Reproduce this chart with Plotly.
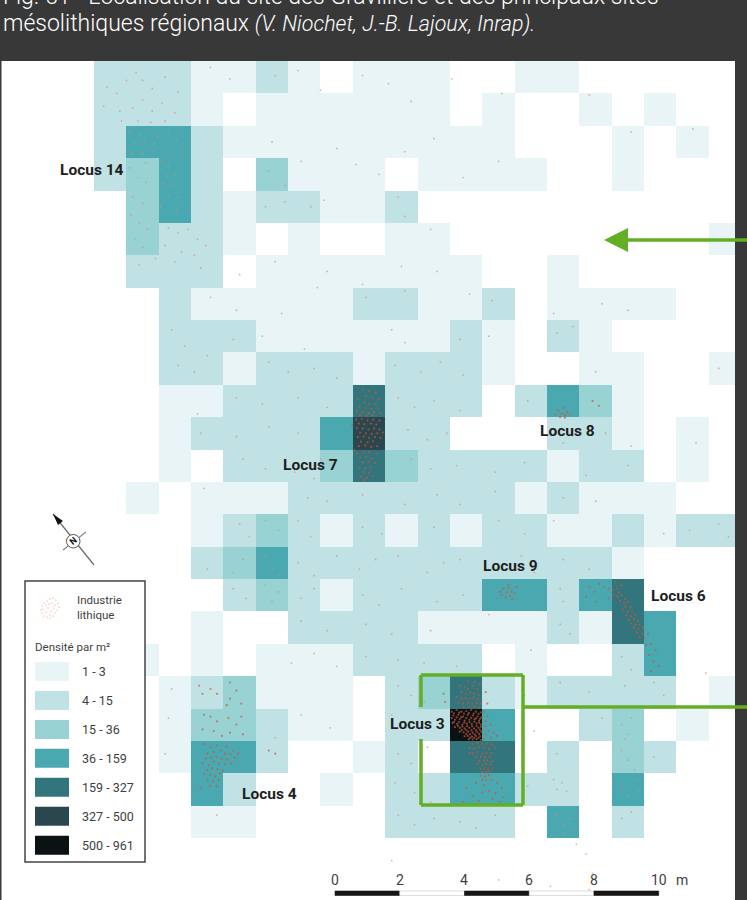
import plotly.graph_objects as go

# Density class per 1 m cell (0 = empty, 1..7 = legend classes), rows top to bottom
density = [
 [2,2,2,1,1,2,1,0,1,1,1,0,0,1,1,0,0,0,0,0],
 [2,2,2,1,0,1,1,1,1,1,1,0,1,0,0,1,0,1,0,0],
 [2,4,4,2,1,1,1,1,1,1,1,1,1,0,0,0,1,0,1,0],
 [2,3,4,2,0,3,1,1,1,0,1,1,1,1,0,0,1,0,0,0],
 [0,3,4,2,1,2,2,1,1,2,0,0,0,0,0,0,0,0,0,0],
 [0,3,2,2,1,0,1,0,0,1,1,0,0,0,0,0,0,0,0,1],
 [0,2,2,2,0,1,1,1,1,1,1,1,0,0,1,0,0,0,0,0],
 [0,0,2,1,1,1,1,1,2,2,1,1,2,0,1,1,1,1,0,0],
 [0,0,2,2,2,1,1,1,1,1,1,2,1,0,2,1,0,0,0,0],
 [0,0,2,2,1,2,2,2,1,2,2,2,1,0,0,1,1,0,0,1],
 [0,0,1,1,2,2,2,2,5,2,2,2,0,2,4,3,1,0,0,0],
 [0,0,1,2,2,2,2,4,6,2,2,0,0,0,2,2,1,0,1,0],
 [0,0,1,0,2,2,2,3,5,3,2,2,2,2,1,2,2,0,1,0],
 [0,1,0,1,1,1,2,2,2,2,2,2,2,1,2,1,1,1,0,0],
 [0,0,0,1,2,3,2,1,2,1,2,1,2,2,1,1,2,1,2,2],
 [0,0,0,2,3,4,2,2,2,2,2,2,2,2,2,2,1,0,0,0],
 [0,0,0,0,2,3,2,1,2,2,2,2,4,4,2,4,5,0,0,0],
 [0,0,0,1,0,0,2,2,2,2,1,1,1,1,2,1,5,4,0,0],
 [0,1,0,1,0,1,1,1,2,2,2,2,0,1,0,0,2,4,0,0],
 [0,0,1,2,3,1,1,1,0,2,3,5,2,1,2,2,2,2,0,1],
 [0,0,1,3,3,2,1,1,0,2,2,7,4,0,0,2,3,0,1,0],
 [0,0,1,4,4,2,0,0,1,2,0,5,5,0,2,0,3,2,0,0],
 [0,0,0,4,2,0,0,1,0,2,2,4,4,2,2,0,4,0,0,0],
 [0,0,0,1,1,0,0,0,0,2,2,2,2,0,4,0,2,0,0,0],
]
class_labels = ["1 - 3", "4 - 15", "15 - 36", "36 - 159", "159 - 327", "327 - 500", "500 - 961"]
class_colors = ["#e9f4f6", "#c1e2e4", "#98d2d3", "#4aa9b0", "#33757d", "#2a464f", "#0a1214"]

locus_names = ["Locus 14", "Locus 7", "Locus 8", "Locus 9", "Locus 6", "Locus 3", "Locus 4"]
scale_ticks = [0, 2, 4, 6, 8, 10]

# Lithic finds, metres on the excavation grid
locus3_finds = [
 (11.05,20.1),(11.2,20.05),(11.35,20.1),(11.5,20.08),(11.65,20.05),(11.8,20.1),(11.95,20.12),
 (11.1,20.22),(11.25,20.2),(11.4,20.25),(11.55,20.2),(11.7,20.22),(11.85,20.25),(11.97,20.28),
 (11.15,20.35),(11.3,20.33),(11.45,20.38),(11.6,20.35),(11.75,20.33),(11.9,20.38),
 (11.08,20.45),(11.22,20.48),(11.38,20.5),(11.52,20.47),(11.67,20.48),(11.82,20.46),(11.95,20.5),
 (11.3,20.6),(11.45,20.62),(11.6,20.6),(11.74,20.62),(11.88,20.6),(11.15,20.58),
 (11.42,20.74),(11.56,20.72),(11.7,20.75),(11.84,20.73),(11.96,20.72),(11.3,20.72),
 (11.55,20.85),(11.68,20.87),(11.8,20.85),(11.93,20.86),(11.45,20.86),
 (11.7,20.96),(11.82,20.95),(11.95,20.97),(11.58,20.95),
 (11.12,20.15),(11.28,20.13),(11.43,20.16),(11.58,20.14),(11.73,20.16),(11.88,20.17),
 (11.05,20.3),(11.2,20.28),(11.35,20.27),(11.5,20.3),(11.65,20.29),(11.8,20.31),(11.93,20.32),
 (11.12,20.42),(11.28,20.42),(11.44,20.44),(11.6,20.42),(11.75,20.41),(11.9,20.44),
 (11.24,20.54),(11.38,20.56),(11.53,20.55),(11.68,20.55),(11.82,20.54),(11.95,20.57),
 (11.36,20.67),(11.5,20.67),(11.66,20.68),(11.8,20.68),(11.92,20.66),
 (11.5,20.79),(11.62,20.8),(11.76,20.8),(11.9,20.79),(11.63,20.9),(11.75,20.91),(11.88,20.91),
 (11.3,19.3),(11.45,19.35),(11.55,19.4),(11.7,19.3),(11.85,19.4),(11.35,19.5),(11.5,19.55),(11.62,19.5),
 (11.75,19.55),(11.9,19.6),(11.2,19.65),(11.35,19.7),(11.48,19.68),(11.6,19.7),(11.72,19.66),(11.85,19.72),
 (11.25,19.82),(11.4,19.85),(11.55,19.82),(11.68,19.86),(11.82,19.84),(11.95,19.85),(11.42,19.95),(11.6,19.96),(11.75,19.94),(11.9,19.97),
 (11.55,19.15),(11.75,19.18),(11.92,19.25),(12.1,19.5),(12.15,19.85),(10.8,19.55),(10.85,19.8),
 (12.05,20.1),(12.15,20.25),(12.1,20.4),(12.25,20.5),(12.08,20.55),(12.2,20.7),(12.35,20.75),(12.1,20.8),(12.25,20.92),(12.45,20.85),(12.05,20.95),
 (11.7,21.1),(11.85,21.05),(12.0,21.1),(12.15,21.08),(12.3,21.12),(11.6,21.22),(11.75,21.25),(11.9,21.2),(12.05,21.22),(12.2,21.25),(12.4,21.2),
 (11.7,21.38),(11.85,21.35),(12.0,21.4),(12.12,21.37),(12.28,21.38),(11.6,21.38),(11.8,21.5),(11.95,21.5),(12.08,21.52),(12.22,21.5),
 (11.9,21.62),(12.05,21.63),(12.15,21.6),(12.3,21.65),(11.85,21.72),(12.0,21.75),(12.12,21.72),(12.25,21.74),
 (11.95,21.86),(12.05,21.85),(12.18,21.88),(12.3,21.86),(12.0,21.96),(12.12,21.97),(12.22,21.95),
 (11.95,22.08),(12.08,22.1),(12.2,22.07),(12.0,22.2),(12.12,22.22),(12.28,22.2),(12.45,22.3),(11.8,22.3),(12.05,22.38),(12.6,22.45),(11.5,22.45),
 (12.2,22.55),(12.0,22.6),(12.4,22.62),(11.7,22.7),(12.3,22.8),(12.65,22.75),(11.9,22.85),(12.55,22.9),(11.4,22.9),
]
locus7_finds = [
 (8.3,10.15),(8.5,10.2),(8.7,10.25),(8.4,10.35),(8.6,10.4),(8.15,10.45),(8.8,10.45),(8.35,10.55),(8.5,10.6),(8.7,10.6),
 (8.2,10.68),(8.4,10.72),(8.58,10.75),(8.78,10.72),(8.12,10.82),(8.3,10.85),(8.48,10.88),(8.65,10.85),(8.85,10.88),(8.22,10.95),(8.42,10.97),(8.6,10.95),
 (8.1,11.08),(8.27,11.06),(8.45,11.1),(8.62,11.08),(8.82,11.1),(8.18,11.2),(8.35,11.22),(8.55,11.2),(8.72,11.23),(7.98,11.25),
 (8.12,11.34),(8.3,11.36),(8.48,11.38),(8.65,11.35),(8.82,11.38),(8.22,11.48),(8.4,11.5),(8.58,11.52),(8.75,11.5),(8.92,11.48),
 (8.15,11.62),(8.33,11.6),(8.5,11.65),(8.68,11.62),(8.85,11.64),(8.25,11.76),(8.45,11.78),(8.62,11.75),(8.18,11.9),(8.38,11.88),(8.56,11.92),(8.75,11.9),
 (8.05,12.02),(8.12,12.12),(8.32,12.1),(8.5,12.08),(8.72,12.12),(8.22,12.25),(8.4,12.22),(8.58,12.28),(8.3,12.4),(8.48,12.38),(8.68,12.42),
 (8.2,12.55),(8.38,12.58),(8.55,12.55),(8.33,12.7),(8.5,12.72),(8.25,12.85),(8.42,12.88),(8.62,12.82),(8.35,12.95),
]
locus6_finds = [
 (15.75,16.25),(15.9,16.3),(16.05,16.35),(15.6,16.15),(16.15,16.3),(16.22,16.42),(16.05,16.5),(16.18,16.55),(16.3,16.5),(16.4,16.62),
 (16.25,16.68),(16.38,16.75),(16.5,16.7),(16.42,16.85),(16.58,16.88),(16.35,16.95),(16.5,17.02),(16.62,17.0),(16.45,17.12),(16.6,17.15),(16.72,17.1),
 (16.52,17.28),(16.68,17.25),(16.8,17.3),(16.58,17.38),(16.72,17.42),(16.85,17.4),(16.68,17.52),(16.82,17.55),(16.95,17.5),(16.78,17.66),(16.92,17.68),
 (16.85,17.8),(17.0,17.82),(17.12,17.7),(17.05,18.05),(17.2,18.0),(17.35,18.2),(17.15,18.35),(17.28,18.55),(17.45,18.7),(17.2,18.85),
 (15.3,16.25),(15.45,16.4),(15.2,16.55),(15.5,16.7),(16.1,16.08),(16.3,16.2),(15.9,16.6),
]
locus4_finds = [
 (3.4,21.1),(3.6,21.2),(3.8,21.15),(4.1,21.18),(4.3,21.3),(3.5,21.4),(3.7,21.35),(3.9,21.3),(4.05,21.4),(4.22,21.42),(4.45,21.4),
 (3.45,21.55),(3.62,21.52),(3.78,21.5),(3.95,21.55),(4.12,21.58),(4.35,21.52),(3.35,21.7),(3.55,21.75),(3.7,21.65),(3.85,21.7),(4.05,21.72),(4.25,21.7),
 (3.5,21.9),(3.65,21.85),(3.82,21.88),(3.98,21.92),(3.4,22.02),(3.6,22.05),(3.75,22.1),(3.9,22.0),(3.5,22.2),(3.68,22.25),(3.85,22.2),(3.58,22.4),(3.78,22.4),(3.3,22.45),
 (3.25,19.3),(3.35,19.55),(3.6,19.4),(3.8,19.55),(4.2,19.2),(4.4,19.45),(4.2,19.7),(4.55,19.85),(4.1,19.9),(3.4,20.2),(3.6,20.25),(3.8,20.4),(4.15,20.3),(4.4,20.5),(4.55,20.25),(4.2,20.75),(3.35,20.65),(3.7,20.7),(3.95,20.85),(4.6,20.8),(5.4,21.3),(5.6,21.4),
]
locus9_finds = [(12.65,16.3),(12.8,16.28),(12.9,16.4),(12.75,16.42),(12.6,16.5),(12.85,16.52),(13.0,16.45),(12.72,16.58),(12.92,16.62),(12.55,16.4),(12.8,16.18),(13.05,16.25)]
locus8_finds = [(14.35,10.8),(14.5,10.72),(14.62,10.85),(14.45,10.9),(14.25,10.92),(14.7,10.92),(14.55,10.95),(14.4,11.0),(14.55,11.02),(15.4,10.5),(15.6,10.65)]
locus14_finds = [
 (1.1,2.2),(1.4,2.3),(1.7,2.15),(1.95,2.35),(1.25,2.55),(1.55,2.5),(1.85,2.55),(2.3,2.25),(2.55,2.45),(2.7,2.8),(1.15,2.85),(1.5,2.85),(1.8,2.8),(1.1,3.3),
 (1.6,3.15),(2.1,3.1),(2.3,3.25),(2.5,3.5),(2.25,3.55),(2.45,3.85),(2.15,3.8),(2.6,4.2),(2.3,4.15),(2.55,4.6),(2.05,4.5),(1.35,3.6),(1.6,3.75),(1.2,4.2),(1.5,4.4),(1.15,4.75),(1.4,5.0),(1.65,5.2),(1.25,5.5),(1.5,5.75),
 (2.3,5.15),(2.6,5.3),(2.9,5.2),(3.2,5.5),(3.45,5.7),(2.2,5.7),(2.7,5.9),(3.1,6.0),(3.3,6.4),(2.5,6.2),(1.4,6.3),(1.9,6.1),
 (0.4,0.8),(0.7,1.0),(1.0,0.6),(1.3,0.35),(1.5,0.6),(1.8,0.85),(2.2,0.5),(2.6,0.95),(0.3,1.4),(0.8,1.55),(1.2,1.45),(1.5,1.2),(1.8,1.55),(2.1,1.3),(2.5,1.6),(0.85,1.85),(1.35,1.85),(1.75,1.9),(2.2,1.85),
]
scattered_finds = [
 (3.6,0.2),(4.2,0.55),(5.6,0.45),(6.3,0.3),(7.0,0.9),(8.3,0.45),(9.1,0.7),(9.8,1.25),(11.05,0.55),(12.6,1.0),(15.3,1.05),(16.6,2.2),(18.5,2.1),
 (5.5,2.5),(6.4,3.1),(7.5,2.7),(8.8,3.5),(9.6,2.8),(10.5,2.4),(11.4,3.6),(12.5,3.1),(5.4,3.4),(5.9,3.85),(7.1,4.3),(8.1,3.2),(9.4,4.2),(9.6,4.8),(10.4,5.2),
 (5.3,4.5),(5.9,4.35),(6.7,4.5),(5.6,6.2),(7.2,6.5),(8.3,6.9),(9.5,6.35),(10.6,6.5),(4.5,6.6),(3.6,7.3),(4.4,7.7),(5.8,7.8),(6.9,7.0),(8.4,7.3),(9.6,7.1),(11.6,7.2),(12.3,7.4),(14.2,7.8),(15.7,7.5),(16.5,7.7),
 (2.4,8.3),(2.8,8.8),(3.5,9.1),(4.3,8.6),(5.2,8.5),(6.5,8.9),(9.2,8.3),(9.6,8.7),(11.3,8.6),(12.2,8.5),(14.3,8.4),(14.8,8.2),
 (2.6,9.4),(3.1,9.6),(5.4,9.3),(6.0,9.6),(6.8,9.5),(7.5,9.8),(9.3,9.4),(10.1,9.6),(10.7,9.3),(11.4,9.7),(15.5,9.6),(19.3,9.5),
 (3.2,10.9),(4.4,10.4),(5.2,10.6),(6.3,10.4),(7.2,10.7),(9.4,10.4),(9.9,10.7),(10.5,10.5),(11.3,10.8),(13.4,10.5),
 (3.3,11.5),(4.4,11.6),(5.4,11.3),(6.3,11.5),(7.0,12.3),(9.7,11.4),(10.3,11.7),(10.9,11.5),(14.5,11.8),(15.8,11.5),(16.6,11.9),(18.6,11.8),
 (4.6,12.3),(5.3,12.6),(6.2,12.7),(6.8,12.9),(9.8,12.3),(10.4,12.6),(11.2,12.5),(12.4,12.7),(13.3,12.4),(15.2,12.8),(16.5,12.5),
 (3.4,13.2),(6.6,13.5),(7.2,13.6),(8.3,13.4),(9.6,13.7),(10.6,13.4),(11.3,13.7),(12.4,13.3),(14.5,13.5),(15.5,13.6),
 (4.5,14.3),(4.8,14.7),(5.3,14.2),(5.7,14.5),(6.3,14.2),(6.7,14.7),(8.3,14.4),(8.9,14.6),(10.5,14.4),(12.5,14.2),(13.3,14.6),(14.2,14.2),(17.6,14.6),(18.4,14.5),(19.3,14.3),(19.6,14.7),
 (3.5,15.7),(4.3,15.8),(4.6,15.4),(5.3,15.3),(5.5,15.7),(5.7,15.9),(6.3,15.5),(6.8,15.9),(7.5,15.3),(8.2,15.7),(8.7,15.4),(9.4,15.3),(10.3,15.8),(10.8,15.5),(11.3,15.4),(12.2,15.7),(13.2,15.3),(13.6,15.8),(14.5,15.4),(15.3,15.7),
 (4.3,16.3),(4.7,16.6),(5.3,16.2),(5.5,16.7),(5.7,16.4),(6.4,16.6),(6.8,16.3),(8.3,16.5),(8.8,16.8),(9.5,16.3),(10.6,16.7),(11.4,16.5),(14.4,16.3),(14.5,16.7),
 (6.4,17.3),(7.2,17.6),(8.4,17.4),(9.2,17.7),(10.4,17.6),(12.2,17.1),(14.4,17.4),(14.7,17.7),
 (6.1,18.6),(6.8,18.3),(7.5,18.7),(8.4,18.4),(9.4,18.5),(10.2,18.6),(11.2,18.7),(13.5,18.2),(16.3,18.4),(16.6,18.8),
 (2.4,19.4),(9.4,19.3),(9.8,19.6),(10.2,19.8),(13.3,19.6),(14.4,19.2),(15.3,19.5),(16.4,19.3),(17.3,19.2),(17.6,19.6),(18.9,18.9),
 (2.3,20.3),(6.4,20.2),(7.3,20.6),(9.2,20.2),(10.1,20.6),(13.6,20.7),(15.7,20.3),(16.3,20.5),(16.5,20.8),(16.6,20.3),(16.4,20.95),
 (9.4,21.4),(9.8,21.7),(14.3,21.4),(16.3,21.3),(16.5,21.6),(16.7,21.9),(17.3,21.5),(2.2,21.4),(5.6,20.9),(10.3,21.2),
 (9.3,22.3),(9.9,22.6),(10.4,22.9),(13.4,22.4),(14.2,22.2),(14.3,22.5),(14.45,22.3),(14.6,22.55),(16.3,22.4),(16.5,22.7),(16.7,22.2),(16.8,22.55),
 (9.4,23.3),(9.9,23.6),(10.5,23.4),(11.3,23.5),(11.8,23.7),(12.4,23.3),(14.3,23.3),(14.5,23.6),(14.7,23.4),(14.55,23.85),(16.3,23.4),(16.6,23.2),
 (3.8,23.3),(14.9,24.2),(15.2,24.5),(15.4,25.1),(15.3,25.6),(9.2,24.7),(12.5,25.3),(14.1,25.5),(13.4,26.0),
]
legend_finds = [
 (42,606),(44,603),(47,601),(50,599),(53,598),(56,600),(58,603),(59,607),(57,610),(55,613),(53,616),(50,618),(47,617),(44,616),(42,613),(41,610),
 (46,605),(49,604),(52,603),(48,608),(51,611),(54,608),(46,612),(50,615),(55,605),(43,609),
]

# Page geometry: pixel position of the grid origin and metres to pixels
W, H = 747, 900
OX, OY = 94.0, 61.0
CELL = 32.37
DARK = "#383838"
GREEN = "#62ae25"
INK = "#3f3f3f"
LABEL_FONT = "Roboto"


def px(x):
    return x / W


def py(y):
    return 1 - y / H


def rect(x0, y0, x1, y1, fill, line=None, lw=0, layer="above"):
    return dict(type="rect", xref="paper", yref="paper", x0=px(x0), x1=px(x1), y0=py(y0), y1=py(y1),
                fillcolor=fill, line=dict(color=line or fill, width=lw), layer=layer)


def seg(x0, y0, x1, y1, color, lw):
    return dict(type="line", xref="paper", yref="paper", x0=px(x0), x1=px(x1), y0=py(y0), y1=py(y1),
                line=dict(color=color, width=lw), layer="above")


def text(x, y, s, size, color=INK, anchor="left", family=LABEL_FONT, angle=0, weight=None):
    font = dict(family=family, size=size, color=color)
    if weight:
        font["weight"] = weight
    return dict(xref="paper", yref="paper", x=px(x), y=py(y), text=s, showarrow=False, xanchor=anchor,
                yanchor="middle", font=font, textangle=angle, borderpad=0, borderwidth=0)


n = len(class_colors) + 1
scale = []
palette = ["rgba(255,255,255,0)"] + class_colors
for i, c in enumerate(palette):
    scale += [[i / n, c], [(i + 1) / n, c]]

fig = go.Figure()
fig.add_trace(go.Heatmap(z=density, x0=0.5, dx=1, y0=0.5, dy=1, zmin=-0.5, zmax=7.5, colorscale=scale,
                         showscale=False, hoverinfo="skip"))
sparse = locus14_finds + scattered_finds
fig.add_trace(go.Scatter(x=[p[0] for p in sparse], y=[p[1] for p in sparse], mode="markers",
                         marker=dict(size=1.8, color="#dd8a6c", opacity=0.65), hoverinfo="skip"))
dense = locus3_finds + locus7_finds + locus6_finds + locus4_finds + locus9_finds + locus8_finds
fig.add_trace(go.Scatter(x=[p[0] for p in dense], y=[p[1] for p in dense], mode="markers",
                         marker=dict(size=2.2, color="#c9573a", opacity=0.7), hoverinfo="skip"))

shapes = [rect(1.5, 61, 735, 900, "#ffffff", layer="below"), rect(735, 0, 747, 900, DARK)]
annos = [
    text(3, -3, "Fig. 51 - Localisation du site des Gravillière et des principaux sites", 23, "#ffffff", weight=300),
    text(3, 24, "mésolithiques régionaux <i><span style='font-size:21.5px'>(V. Niochet, J.-B. Lajoux, Inrap).</span></i>", 23, "#ffffff", weight=300),
]

# Locus labels
for name, (x, y) in zip(locus_names, [(60, 170), (283, 465), (540, 431), (483, 566), (651, 596), (390, 724), (242, 794)]):
    annos.append(text(x, y, f"<b>{name}</b>", 15.5, "#1e1e1e"))

# Legend
shapes.append(rect(25, 581, 145, 862, "#ffffff", "#444444", 1.5))
annos += [text(77, 600, "Industrie", 11.5), text(77, 615, "lithique", 11.5), text(35, 647, "Densité par m²", 11.5)]
for i, (lab, col) in enumerate(zip(class_labels, class_colors)):
    top = 662 + i * 28.95
    shapes.append(rect(35, top, 69, top + 19, col))
    annos.append(text(82, top + 9.5, lab, 12.5))
for (x, y) in legend_finds:
    shapes.append(dict(type="circle", xref="paper", yref="paper", x0=px(x - 0.6), x1=px(x + 0.6), y0=py(y - 0.6), y1=py(y + 0.6),
                       fillcolor="#e58a6c", line=dict(width=0), layer="above"))

# North arrow
shapes += [
    seg(53, 514, 94, 565, "#6a6a6a", 1.2),
    seg(63, 550, 86, 532, "#8a8a8a", 1.2),
    dict(type="path", xref="paper", yref="paper", path=f"M {px(53)} {py(514)} L {px(63)} {py(521)} L {px(58)} {py(525)} Z",
         fillcolor="#111111", line=dict(width=0), layer="above"),
    dict(type="circle", xref="paper", yref="paper", x0=px(66.5), x1=px(80), y0=py(534.5), y1=py(548),
         fillcolor="#ffffff", line=dict(color="#555555", width=1), layer="above"),
]
annos.append(text(73.2, 541, "<b>N</b>", 9, "#111111", "center", "Roboto", -40))

# Scale bar, in metres on the grid axis
bar_start = (335 - OX) / CELL
for a, b in zip(scale_ticks[:-1], scale_ticks[1:]):
    dark = a % 4 == 0
    shapes.append(dict(type="rect", xref="x", yref="paper", x0=bar_start + a, x1=bar_start + b, y0=py(895.5), y1=py(891),
                       fillcolor="#161616" if dark else "#ffffff", line=dict(color="#161616" if dark else "#c8c8c8", width=0.6), layer="above"))
for t in scale_ticks:
    annos.append(dict(xref="x", yref="paper", x=bar_start + t, y=py(880), text=str(t), showarrow=False, xanchor="center", yanchor="middle",
                      font=dict(family=LABEL_FONT, size=14, color=INK)))
annos.append(text(676, 880, "m", 14))

# Green frame and pointers
for s in [(421, 707, 421, 675), (421, 675, 523, 675), (523, 675, 523, 805), (523, 805, 421, 805), (421, 805, 421, 739), (523, 707, 747, 707), (628, 240, 747, 240)]:
    shapes.append(seg(*s, GREEN, 3.5))
shapes.append(dict(type="path", xref="paper", yref="paper", path=f"M {px(604)} {py(240)} L {px(628)} {py(228)} L {px(628)} {py(252)} Z",
                   fillcolor=GREEN, line=dict(width=0), layer="above"))

fig.update_layout(
    width=W, height=H, margin=dict(l=0, r=0, t=0, b=0), autosize=False, showlegend=False,
    paper_bgcolor=DARK, plot_bgcolor="rgba(0,0,0,0)", shapes=shapes, annotations=annos,
    xaxis=dict(range=[-OX / CELL, (W - OX) / CELL], visible=False, fixedrange=True),
    yaxis=dict(range=[(H - OY) / CELL, -OY / CELL], visible=False, fixedrange=True),
)
fig.write_html("out.html", config=dict(displayModeBar=False),
               post_script="document.body.style.margin='0';document.body.style.overflow='hidden';document.body.style.background='#383838';")
